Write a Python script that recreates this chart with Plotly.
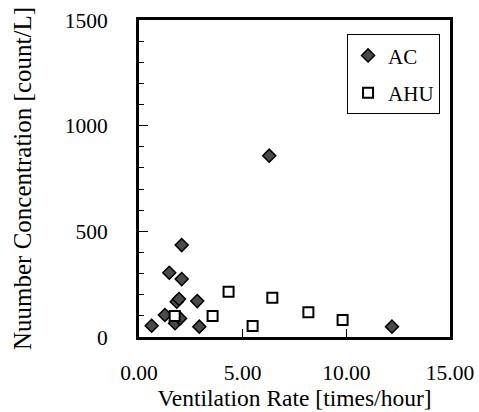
import plotly.graph_objects as go

# Data
ac_x = [0.61, 1.25, 1.46, 1.74, 1.82, 1.93, 1.98, 2.06, 2.06, 2.81, 2.91, 6.28, 12.2]
ac_y = [53, 104, 304, 65, 167, 180, 88, 274, 435, 170, 49, 858, 49]

ahu_x = [1.72, 3.55, 4.32, 5.48, 6.43, 8.17, 9.82]
ahu_y = [99, 99, 214, 52, 186, 117, 80]

x_ticks = [0, 5, 10, 15]
y_ticks = [0, 500, 1000, 1500]

FONT = "Times New Roman, Liberation Serif, DejaVu Serif, serif"

fig = go.Figure()
fig.add_trace(go.Scatter(
    x=ac_x, y=ac_y, mode="markers", name="AC", legendgroup="a",
    marker=dict(symbol="diamond", size=10, color="#4a4a4a",
                line=dict(color="black", width=1.5)),
    cliponaxis=False,
))
fig.add_trace(go.Scatter(
    x=ahu_x, y=ahu_y, mode="markers", name="AHU", legendgroup="b",
    marker=dict(symbol="square", size=10, color="white",
                line=dict(color="black", width=2)),
    cliponaxis=False,
))

fig.update_layout(
    width=479, height=412,
    margin=dict(l=139, r=29, t=20, b=75, autoexpand=False),
    paper_bgcolor="white", plot_bgcolor="white",
    font=dict(family=FONT, size=21, color="black"),
    showlegend=True,
    legend=dict(
        x=0.968, y=0.955, xanchor="right", yanchor="top",
        bgcolor="white", bordercolor="black", borderwidth=1,
        font=dict(family=FONT, size=21, color="black"),
        tracegroupgap=7, itemwidth=30,
    ),
    xaxis=dict(
        range=[0, 15], tickvals=x_ticks, tickformat=".2f",
        showgrid=False, zeroline=False,
        showline=True, linecolor="black", linewidth=3, mirror=True,
        ticks="inside", ticklen=8, tickwidth=1, tickcolor="black",
        ticklabelstandoff=14,
        tickfont=dict(family=FONT, size=21.5),
        title=dict(text="Ventilation Rate [times/hour]", standoff=0,
                   font=dict(family=FONT, size=23.5)),
    ),
    yaxis=dict(
        range=[0, 1500], tickvals=y_ticks,
        showgrid=False, zeroline=False,
        showline=True, linecolor="black", linewidth=3, mirror=True,
        ticks="inside", ticklen=9, tickwidth=1, tickcolor="black",
        ticklabelstandoff=24,
        tickfont=dict(family=FONT, size=21.5),
        minor=dict(dtick=100, ticks="inside", ticklen=5, tickwidth=1, tickcolor="black"),
        title=dict(text="Nuumber Concentration [count/L]", standoff=26,
                   font=dict(family=FONT, size=25)),
    ),
)

# remove the default 8px page margin so the figure fills the window exactly
fig.write_html(
    "out.html",
    config={"displayModeBar": False},
    post_script="document.body.style.margin='0';document.body.style.overflow='hidden';",
)
